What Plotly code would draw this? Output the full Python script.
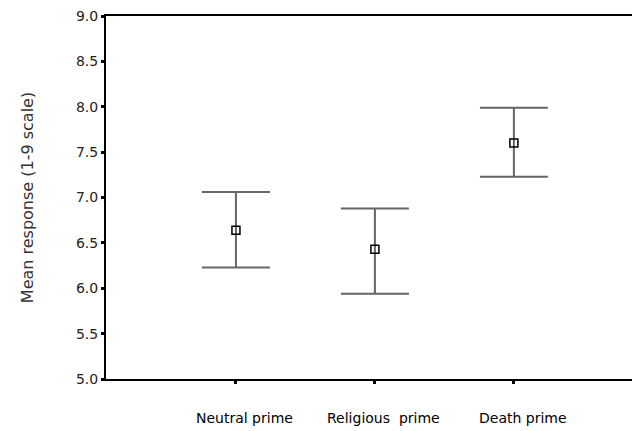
import plotly.graph_objects as go

conditions = ['Neutral prime', 'Religious  prime', 'Death prime']
means = [6.64, 6.43, 7.60]
upper = [7.06, 6.88, 7.99]
lower = [6.23, 5.94, 7.23]

positions = list(range(len(conditions)))
err_plus = [u - m for u, m in zip(upper, means)]
err_minus = [m - l for m, l in zip(means, lower)]

fig = go.Figure()
fig.add_trace(go.Scatter(
    x=positions, y=means, mode='markers',
    marker=dict(symbol='square-open', size=8, color='black', line=dict(width=1.5)),
    error_y=dict(type='data', symmetric=False, array=err_plus, arrayminus=err_minus,
                 color='#666666', thickness=2, width=34),
    showlegend=False,
))

# category names sit a little to the right of their ticks in the original
for pos, name in zip(positions, conditions):
    fig.add_annotation(x=pos, y=0, yref='paper', text=name, showarrow=False,
                       xshift=9, yshift=-49, font=dict(size=14, color='black'))

fig.update_layout(
    width=632, height=431,
    margin=dict(l=106, r=0, t=16, b=52, autoexpand=False),
    paper_bgcolor='white', plot_bgcolor='white',
    font=dict(family='DejaVu Sans, Arial, sans-serif', size=13, color='#111111'),
    xaxis=dict(
        range=[-0.935, 2.85], tickvals=positions, showticklabels=False,
        showline=True, linecolor='black', linewidth=2, mirror=True,
        ticks='outside', ticklen=3, tickwidth=3, tickcolor='black',
        showgrid=False, zeroline=False, automargin=False,
    ),
    yaxis=dict(
        range=[5.0, 9.0], dtick=0.5, tickformat='.1f',
        showline=True, linecolor='black', linewidth=2,
        ticks='outside', ticklen=3, tickwidth=3, tickcolor='black',
        showgrid=False, zeroline=False, automargin=False,
        title=dict(text='Mean response (1-9 scale)', standoff=38,
                   font=dict(size=16, color='#333333')),
        tickfont=dict(size=14, color='#222222'),
    ),
)

# drop the default page margin so the chart sits at the window's corner
fig.write_html('out.html', config={'displayModeBar': False},
               post_script="document.body.style.margin='0';")
